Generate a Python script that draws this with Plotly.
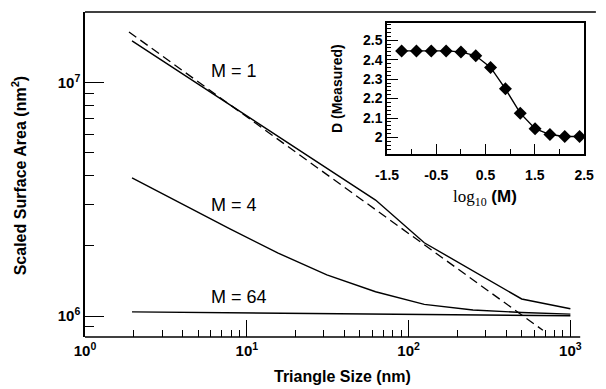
import plotly.graph_objects as go

# ---- data ----
size_nm = [1.953, 3.906, 7.8125, 15.625, 31.25, 62.5, 125, 250, 500, 1000]
area_m1 = [1.51e7, 1.104e7, 8.07e6, 5.89e6, 4.31e6, 3.14e6, 2.06e6, 1.56e6, 1.183e6, 1.074e6]
area_m4 = [3.91e6, 3.04e6, 2.37e6, 1.86e6, 1.50e6, 1.27e6, 1.122e6, 1.061e6, 1.035e6, 1.019e6]
area_m64 = [1.042e6, 1.037e6, 1.032e6, 1.027e6, 1.022e6, 1.018e6, 1.013e6, 1.009e6, 1.005e6, 1.002e6]
ref_x = [1.87, 676]
ref_y = [1.65e7, 8.69e5]

log10_M = [-1.204, -0.903, -0.602, -0.301, 0.0, 0.301, 0.602, 0.903, 1.204, 1.505, 1.806, 2.107, 2.408]
D_measured = [2.445, 2.445, 2.445, 2.445, 2.44, 2.42, 2.36, 2.25, 2.125, 2.045, 2.015, 2.005, 2.005]

x_major = [1, 10, 100, 1000]
x_major_text = ["10<sup>0</sup>", "10<sup>1</sup>", "10<sup>2</sup>", "10<sup>3</sup>"]
y_major = [1e6, 1e7]
y_major_text = ["10<sup>6</sup>", "10<sup>7</sup>"]
ix_major = [-1.5, -0.5, 0.5, 1.5, 2.5]
ix_text = ["-1.5", "-0.5", "0.5", "1.5", "2.5"]
iy_major = [2.0, 2.1, 2.2, 2.3, 2.4, 2.5]
iy_text = ["2", "2.1", "2.2", "2.3", "2.4", "2.5"]

# ---- geometry (pixels) ----
W, H = 606, 389
L, R, T, B = 85, 600, 12, 337
pw, ph = R - L, B - T
def px(x): return (x - L) / pw
def py(y): return (B - y) / ph

FONT = "Liberation Sans, Arial, sans-serif"
line = dict(color="black", width=1.4)

fig = go.Figure()
fig.add_trace(go.Scatter(x=ref_x, y=ref_y, mode="lines",
                         line=dict(color="black", width=1.3, dash="9px,5px"),
                         xaxis="x", yaxis="y", showlegend=False))
for ys in (area_m1, area_m4, area_m64):
    fig.add_trace(go.Scatter(x=size_nm, y=ys, mode="lines", line=line,
                             xaxis="x", yaxis="y", showlegend=False))
fig.add_trace(go.Scatter(x=log10_M, y=D_measured, mode="lines+markers",
                         line=dict(color="black", width=1.4),
                         marker=dict(symbol="diamond", size=10, color="black"),
                         xaxis="x2", yaxis="y2", showlegend=False))

fig.update_layout(
    width=W, height=H,
    margin=dict(l=L, r=W - R, t=T, b=H - B),
    paper_bgcolor="white", plot_bgcolor="white",
    font=dict(family=FONT, color="black"),
    xaxis=dict(type="log", range=[0, (R - L) / 165.0], showgrid=False, zeroline=False,
               showline=False, ticks="inside", ticklen=17, tickwidth=1.3, tickcolor="black",
               tickmode="array", tickvals=x_major,
               ticktext=["<b>%s</b>" % t for t in x_major_text],
               tickfont=dict(size=15, family=FONT), ticklabelstandoff=3,
               minor=dict(ticks="inside", ticklen=7, tickwidth=1.2, tickcolor="black",
                          tickmode="array",
                          tickvals=[2, 3, 4, 5, 6, 7, 8, 9, 20, 30, 40, 50, 60, 70, 80, 90,
                                    200, 300, 400, 500, 600, 700, 800, 900],
                          showgrid=False)),
    yaxis=dict(type="log", range=[5.91, 7.303], showgrid=False, zeroline=False,
               showline=True, linecolor="black", linewidth=1.5,
               ticks="inside", ticklen=19, tickwidth=1.3, tickcolor="black",
               tickmode="array", tickvals=y_major,
               ticktext=["<b>%s</b>" % t for t in y_major_text],
               tickfont=dict(size=15, family=FONT),
               minor=dict(ticks="inside", ticklen=9, tickwidth=1.2, tickcolor="black",
                          tickmode="array",
                          tickvals=[9e5, 2e6, 3e6, 4e6, 5e6, 6e6, 7e6, 8e6, 9e6],
                          showgrid=False)),
    xaxis2=dict(domain=[px(393), px(594)], anchor="y2", range=[-1.5, 2.5],
                showgrid=False, zeroline=False, showline=True, mirror=True,
                linecolor="black", linewidth=1.5,
                ticks="inside", ticklen=10, tickwidth=1.2, tickcolor="black",
                tickmode="array", tickvals=ix_major,
                ticktext=["<b>%s</b>" % t for t in ix_text],
                tickfont=dict(size=14, family=FONT), ticklabelstandoff=7,
                minor=dict(ticks="inside", ticklen=5, tickwidth=1.2, tickcolor="black",
                           tickmode="array", tickvals=[-1, 0, 1, 2], showgrid=False)),
    yaxis2=dict(domain=[py(154), py(22.7)], anchor="x2", range=[1.915, 2.59],
                showgrid=False, zeroline=False, showline=True, mirror=True,
                linecolor="black", linewidth=1.5,
                ticks="inside", ticklen=11, tickwidth=1.2, tickcolor="black",
                tickmode="array", tickvals=iy_major,
                ticktext=["<b>%s</b>" % t for t in iy_text],
                tickfont=dict(size=14, family=FONT),
                minor=dict(ticks="inside", ticklen=4, tickwidth=1, tickcolor="black",
                           dtick=0.02, tick0=2.0, showgrid=False)),
)

shapes = [
    dict(type="line", xref="paper", yref="paper", x0=0, x1=px(606), y0=1, y1=1,
         line=dict(color="black", width=1.5)),
    dict(type="line", xref="paper", yref="paper", x0=0, x1=px(590), y0=0, y1=0,
         line=dict(color="black", width=1.5)),
]
fig.update_layout(shapes=shapes)

ann = [
    dict(text="M = 1", x=px(211), y=py(70.7), xanchor="left", yanchor="middle"),
    dict(text="M = 4", x=px(211), y=py(205), xanchor="left", yanchor="middle"),
    dict(text="M = 64", x=px(211), y=py(297), xanchor="left", yanchor="middle"),
]
for a in ann:
    fig.add_annotation(xref="paper", yref="paper", showarrow=False,
                       font=dict(size=18, family=FONT), **a)

fig.add_annotation(xref="paper", yref="paper", showarrow=False,
                   text="<b>Triangle Size (nm)</b>", x=px(347.5), y=py(376),
                   xanchor="center", yanchor="middle", font=dict(size=16, family=FONT))
fig.add_annotation(xref="paper", yref="paper", showarrow=False,
                   text="<b>Scaled Surface Area (nm<sup>2</sup>)</b>", textangle=-90,
                   x=px(18), y=py(175), xanchor="center", yanchor="middle",
                   font=dict(size=16, family=FONT))
fig.add_annotation(xref="paper", yref="paper", showarrow=False,
                   text="<b>D (Measured)</b>", textangle=-90,
                   x=px(342), y=py(89), xanchor="center", yanchor="middle",
                   font=dict(size=14, family=FONT))
fig.add_annotation(xref="paper", yref="paper", showarrow=False,
                   text="<span style='font-family:Liberation Serif, serif'>log<sub>10</sub></span> <b>(M)</b>",
                   x=px(493), y=py(198), xanchor="center", yanchor="middle",
                   font=dict(size=17, family=FONT))

fig.write_html("out.html")
